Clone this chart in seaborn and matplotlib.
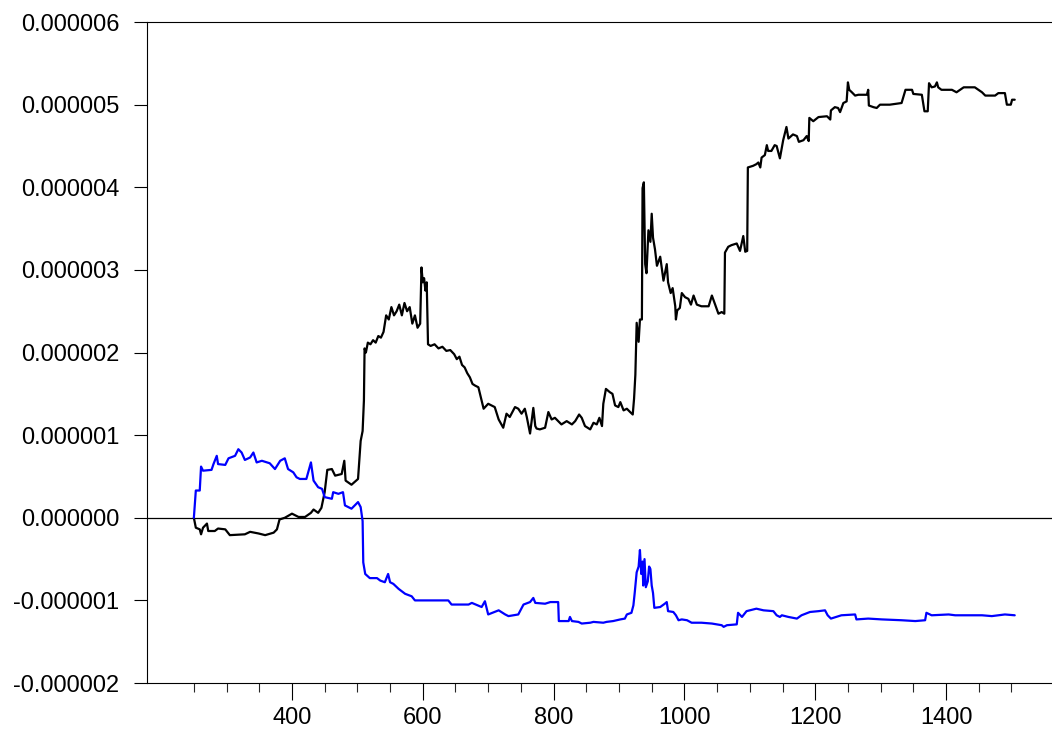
import numpy as np
import pandas as pd
import matplotlib
matplotlib.use('Agg')
import matplotlib.pyplot as plt
from matplotlib.ticker import FixedLocator, FuncFormatter
import seaborn as sns

# values, y in millionths (x 1e-6)
black_x = [250, 253, 259, 261, 264, 270, 272, 282, 287, 298, 305, 328, 336, 349, 359, 372, 377, 381, 389, 400,
           410, 420, 429, 433, 440, 445, 450, 454, 461, 466, 476, 480, 482, 491, 501, 505, 508, 510, 511, 513,
           516, 520, 524, 528, 532, 536, 540, 544, 548, 552, 556, 560, 564, 568, 572, 576, 580, 584, 588, 592,
           596, 598, 600, 602, 604, 606, 608, 612, 618, 624, 630, 636, 642, 648, 652, 656, 660, 664, 668, 672,
           676, 680, 685, 690, 693, 700, 710, 716, 723, 728, 733, 741, 746, 751, 756, 759, 764, 769, 772, 774,
           779, 787, 792, 797, 802, 807, 812, 820, 828, 833, 839, 843, 848, 856, 861, 866, 870, 874, 876, 880,
           886, 890, 894, 899, 902, 907, 912, 917, 921, 923, 925, 927, 930, 932, 935, 936, 938, 940, 942, 945,
           948, 950, 952, 955, 958, 963, 968, 973, 975, 979, 982, 986, 987, 989, 993, 996, 1001, 1006, 1010, 1014,
           1019, 1026, 1037, 1042, 1047, 1052, 1057, 1061, 1062, 1067, 1072, 1080, 1085, 1090, 1093, 1096, 1097, 1105, 1110, 1113,
           1116, 1118, 1123, 1126, 1128, 1133, 1138, 1141, 1146, 1151, 1156, 1159, 1166, 1172, 1175, 1182, 1187, 1190, 1191, 1197,
           1205, 1218, 1223, 1224, 1230, 1235, 1238, 1243, 1248, 1250, 1252, 1256, 1261, 1266, 1279, 1281, 1282, 1289, 1294, 1299,
           1314, 1332, 1338, 1348, 1350, 1363, 1367, 1372, 1374, 1378, 1383, 1386, 1388, 1393, 1409, 1416, 1427, 1444, 1455, 1460,
           1475, 1480, 1490, 1493, 1499, 1501, 1505]
black_y = [0.00, -0.12, -0.14, -0.20, -0.12, -0.07, -0.16, -0.16, -0.13, -0.14, -0.21, -0.20, -0.17, -0.19, -0.21, -0.18, -0.14, -0.02, 0.00, 0.05,
           0.01, 0.01, 0.06, 0.10, 0.06, 0.12, 0.31, 0.58, 0.59, 0.51, 0.53, 0.69, 0.45, 0.40, 0.47, 0.93, 1.05, 1.42, 2.05, 2.00,
           2.12, 2.10, 2.15, 2.12, 2.20, 2.18, 2.25, 2.45, 2.40, 2.55, 2.45, 2.50, 2.58, 2.45, 2.60, 2.50, 2.55, 2.35, 2.45, 2.30,
           2.35, 3.03, 2.85, 2.90, 2.75, 2.85, 2.10, 2.08, 2.10, 2.05, 2.07, 2.02, 2.03, 1.98, 1.92, 1.95, 1.85, 1.82, 1.75, 1.70,
           1.62, 1.60, 1.58, 1.42, 1.32, 1.38, 1.34, 1.19, 1.09, 1.26, 1.22, 1.34, 1.32, 1.26, 1.32, 1.22, 1.02, 1.33, 1.11, 1.08,
           1.07, 1.09, 1.28, 1.19, 1.21, 1.17, 1.13, 1.17, 1.13, 1.17, 1.25, 1.21, 1.11, 1.07, 1.15, 1.13, 1.21, 1.11, 1.38, 1.56,
           1.52, 1.50, 1.36, 1.34, 1.40, 1.30, 1.32, 1.28, 1.25, 1.44, 1.73, 2.36, 2.13, 2.40, 2.40, 3.99, 4.06, 3.07, 2.96, 3.48,
           3.34, 3.68, 3.39, 3.25, 3.05, 3.16, 2.87, 3.07, 2.85, 2.72, 2.78, 2.56, 2.40, 2.51, 2.54, 2.72, 2.67, 2.65, 2.58, 2.69,
           2.58, 2.56, 2.56, 2.69, 2.58, 2.47, 2.49, 2.47, 3.21, 3.28, 3.30, 3.32, 3.23, 3.41, 3.22, 3.23, 4.24, 4.26, 4.28, 4.30,
           4.24, 4.36, 4.39, 4.51, 4.44, 4.44, 4.51, 4.50, 4.35, 4.57, 4.73, 4.59, 4.64, 4.62, 4.55, 4.57, 4.62, 4.56, 4.84, 4.80,
           4.85, 4.86, 4.82, 4.93, 4.97, 4.96, 4.91, 5.02, 5.04, 5.27, 5.18, 5.15, 5.11, 5.12, 5.12, 5.18, 4.99, 4.97, 4.96, 5.00,
           5.00, 5.02, 5.18, 5.18, 5.13, 5.12, 4.92, 4.92, 5.26, 5.21, 5.22, 5.27, 5.21, 5.18, 5.18, 5.15, 5.21, 5.21, 5.15, 5.11,
           5.11, 5.14, 5.14, 5.00, 5.00, 5.06, 5.06]

blue_x = [250, 253, 259, 261, 264, 277, 280, 285, 287, 298, 303, 313, 318, 323, 328, 336, 341, 346, 354, 366,
          374, 382, 389, 394, 402, 407, 412, 422, 429, 433, 440, 446, 450, 461, 463, 471, 478, 481, 491, 501,
          505, 508, 509, 512, 519, 530, 535, 542, 547, 550, 555, 563, 573, 583, 588, 639, 644, 670, 675, 690,
          695, 700, 716, 726, 731, 746, 754, 764, 769, 772, 787, 795, 807, 808, 823, 825, 828, 838, 843, 856,
          861, 876, 881, 891, 902, 909, 912, 919, 922, 924, 927, 930, 932, 934, 936, 937, 939, 941, 944, 946,
          948, 950, 952, 954, 963, 970, 973, 975, 983, 987, 991, 996, 1004, 1011, 1026, 1042, 1057, 1060, 1065, 1080,
          1082, 1088, 1095, 1105, 1110, 1121, 1136, 1141, 1146, 1149, 1159, 1172, 1179, 1192, 1205, 1215, 1219, 1224, 1240, 1261,
          1263, 1281, 1302, 1332, 1353, 1368, 1370, 1378, 1404, 1414, 1434, 1455, 1470, 1490, 1505]
blue_y = [0.00, 0.33, 0.33, 0.62, 0.57, 0.58, 0.65, 0.75, 0.65, 0.64, 0.72, 0.75, 0.83, 0.79, 0.70, 0.73, 0.79, 0.67, 0.69, 0.66,
          0.59, 0.69, 0.72, 0.59, 0.55, 0.49, 0.47, 0.47, 0.67, 0.45, 0.37, 0.35, 0.25, 0.23, 0.31, 0.29, 0.31, 0.15, 0.11, 0.19,
          0.13, -0.04, -0.54, -0.68, -0.73, -0.73, -0.76, -0.78, -0.68, -0.78, -0.80, -0.86, -0.92, -0.95, -1.00, -1.00, -1.05, -1.05, -1.03, -1.08,
          -1.01, -1.17, -1.12, -1.17, -1.19, -1.17, -1.05, -1.02, -0.97, -1.03, -1.04, -1.02, -1.02, -1.25, -1.25, -1.20, -1.25, -1.26, -1.28, -1.27,
          -1.26, -1.27, -1.26, -1.25, -1.23, -1.22, -1.17, -1.15, -1.06, -0.91, -0.66, -0.59, -0.39, -0.68, -0.53, -0.82, -0.50, -0.84, -0.77, -0.59,
          -0.62, -0.82, -0.91, -1.09, -1.08, -1.04, -1.02, -1.13, -1.14, -1.18, -1.24, -1.23, -1.24, -1.27, -1.27, -1.28, -1.30, -1.32, -1.30, -1.29,
          -1.15, -1.20, -1.13, -1.11, -1.10, -1.12, -1.13, -1.18, -1.20, -1.18, -1.20, -1.22, -1.18, -1.14, -1.13, -1.12, -1.18, -1.22, -1.18, -1.17,
          -1.23, -1.22, -1.23, -1.24, -1.25, -1.24, -1.15, -1.18, -1.17, -1.18, -1.18, -1.18, -1.19, -1.17, -1.18]

SCALE = 1e-6

sns.set_style('ticks')
plt.rcParams['font.family'] = ['Liberation Sans', 'DejaVu Sans']

df_black = pd.DataFrame({'obs': black_x, 'value': np.array(black_y) * SCALE})
df_blue = pd.DataFrame({'obs': blue_x, 'value': np.array(blue_y) * SCALE})

fig = plt.figure(figsize=(10.52, 7.35), dpi=100)
ax = fig.add_axes([0.1397, 0.0707, 0.8603, 0.8993])

# zero reference line
ax.axhline(0, color='black', lw=0.9, zorder=1)

sns.lineplot(data=df_black, x='obs', y='value', color='black', lw=1.6,
             estimator=None, sort=False, ax=ax, zorder=2)
sns.lineplot(data=df_blue, x='obs', y='value', color='#0000ff', lw=1.6,
             estimator=None, sort=False, ax=ax, zorder=3)

ax.set_xlim(178.3, 1562)
ax.set_ylim(-2e-6, 6e-6)
ax.set_xlabel('')
ax.set_ylabel('')

ax.xaxis.set_major_locator(FixedLocator(np.arange(400, 1401, 200)))
ax.xaxis.set_minor_locator(FixedLocator([v for v in range(250, 1501, 50) if v % 200 != 0]))
ax.yaxis.set_major_locator(FixedLocator(np.arange(-2, 7) * 1e-6))
ax.yaxis.set_major_formatter(FuncFormatter(lambda v, p: f'{round(v * 1e6) * 1e-6:.6f}'))

ax.tick_params(axis='x', which='major', length=12, width=0.8, direction='out', pad=5,
               labelsize=17, colors='black')
ax.tick_params(axis='x', which='minor', length=6.5, width=0.8, direction='out')
ax.tick_params(axis='y', which='major', length=9.5, width=0.8, direction='out', pad=10.5,
               labelsize=17, colors='black')
ax.tick_params(top=False, right=False)

for side in ['left', 'bottom', 'top']:
    ax.spines[side].set_color('black')
    ax.spines[side].set_linewidth(0.8)
ax.spines['right'].set_visible(False)

fig.savefig('out.png', dpi=100)
